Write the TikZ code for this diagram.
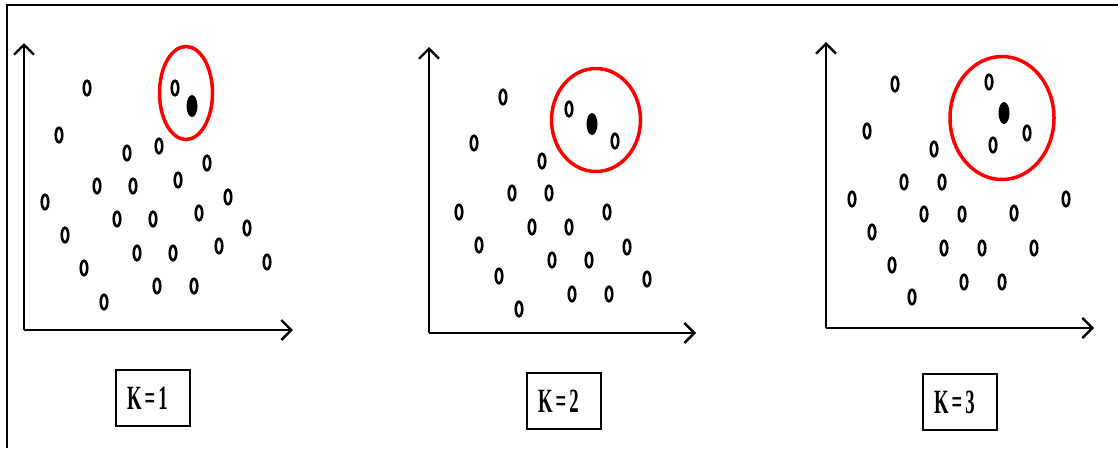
\documentclass[tikz,border=0pt]{standalone}
\usepackage{fontspec}
\setmainfont{Liberation Serif}
\usetikzlibrary{shapes.geometric, arrows.meta, positioning}

\newcommand{\kvalue}[1]{\scalebox{0.55}[1]{\bfseries K\,=\,#1}}

\begin{document}
\begin{tikzpicture}[x=1pt, y=-1pt,
    pt/.style={draw, ellipse, line width=2.6pt, minimum width=6.5pt, minimum height=14.5pt, inner sep=0pt},
    query/.style={ellipse, fill=black, minimum width=11pt, minimum height=22pt, inner sep=0pt},
    ring/.style={draw=red, ellipse, line width=3.5pt, inner sep=0pt},
    axis/.style={line width=2.4pt, -{Straight Barb[length=10pt, width=20pt, line width=2.4pt]}},
    kbox/.style={draw, line width=1.6pt, text width=52pt, align=left, inner xsep=11pt, minimum height=56pt, font=\fontsize{34}{36}\selectfont}]
    \useasboundingbox (0,0) rectangle (1118,448);
    \draw[line width=2.6pt] (7,448) -- (7,5) -- (1118,5);

    % K = 1
    \coordinate (o1) at (24,330);
    \coordinate (y1) at (24,43);
    \coordinate (x1) at (293,330);
    \draw[axis] (o1) -- (y1);
    \draw[axis] (o1) -- (x1);
    \foreach \x/\y [count=\i] in {87/88, 175/88, 59/135, 127/153, 159/146, 207/163, 97/186, 133/186,
        178/180, 228/197, 45/202, 117/219, 153/219, 199/213, 247/228, 65/235, 137/253, 173/253,
        219/246, 267/262, 84/268, 157/286, 194/286, 104/302}
        \node[pt] (a\i) at (\x,\y) {};
    \node[query] (qa) at (192,106) {};
    \node[ring, minimum width=53pt, minimum height=93pt] (ra) at (186,93) {};
    \node[kbox] (ka) at (153,398) {\kvalue{1}};

    % K = 2
    \coordinate (o2) at (429,333);
    \coordinate (y2) at (429,47);
    \coordinate (x2) at (696,333);
    \draw[axis] (o2) -- (y2);
    \draw[axis] (o2) -- (x2);
    \foreach \x/\y [count=\i] in {503/97, 569/109, 615/141, 474/143, 542/161, 512/193, 549/193,
        459/212, 607/212, 532/227, 569/227, 479/245, 627/247, 552/260, 589/260, 499/276, 647/279,
        572/294, 609/294, 519/309}
        \node[pt] (b\i) at (\x,\y) {};
    \node[query] (qb) at (592,124) {};
    \node[ring, minimum width=89pt, minimum height=103pt] (rb) at (596,120) {};
    \node[kbox] (kb) at (564,401) {\kvalue{2}};

    % K = 3
    \coordinate (o3) at (826,328);
    \coordinate (y3) at (826,42);
    \coordinate (x3) at (1094,328);
    \draw[axis] (o3) -- (y3);
    \draw[axis] (o3) -- (x3);
    \foreach \x/\y [count=\i] in {895/84, 989/82, 1027/133, 993/145, 867/131, 934/149, 904/182,
        942/182, 852/199, 1066/199, 924/214, 962/214, 1014/213, 872/232, 944/248, 982/248,
        1034/248, 892/265, 964/282, 1002/282, 912/297}
        \node[pt] (c\i) at (\x,\y) {};
    \node[query] (qc) at (1004,113) {};
    \node[ring, minimum width=104pt, minimum height=123pt] (rc) at (1002,118) {};
    \node[kbox] (kc) at (960,402) {\kvalue{3}};
\end{tikzpicture}
\end{document}
